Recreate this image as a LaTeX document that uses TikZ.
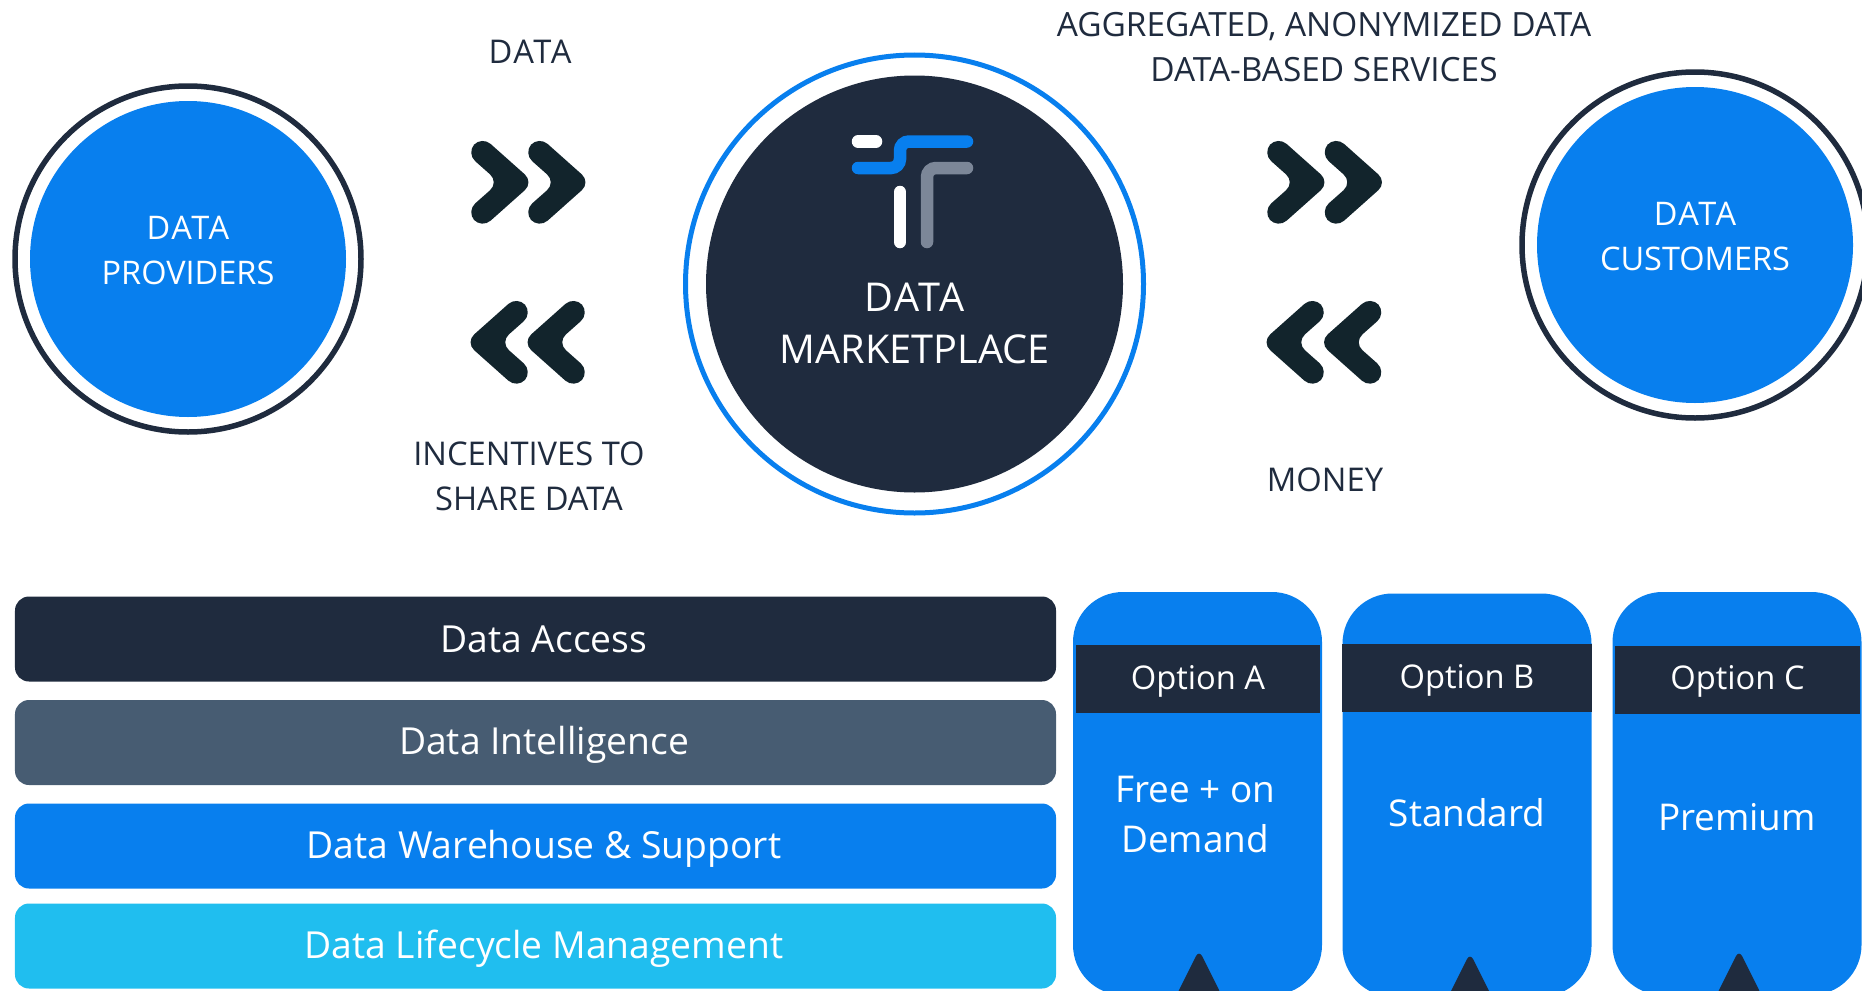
\documentclass[tikz,border=0pt]{standalone}
\usepackage{fontspec}
\setmainfont[Kerning=Off]{Open Sans}
\definecolor{navy}{HTML}{1F2B3E}
\definecolor{slate}{HTML}{475C72}
\definecolor{azure}{HTML}{087FEE}
\definecolor{sky}{HTML}{20BEEF}
\definecolor{ink}{HTML}{12242C}
\definecolor{logogray}{HTML}{7C8798}
\newcommand{\wideword}[1]{{\addfontfeature{LetterSpace=5}#1}}
\tikzset{
    disc/.style={circle, fill=azure, inner sep=0, minimum size=3.16cm},
    ring/.style={circle, draw=navy, line width=0.055cm, inner sep=0, minimum size=3.46cm},
    caption/.style={align=center, text=navy, font=\fontsize{9.3}{12.8}\selectfont},
    disctext/.style={align=center, text=white, font=\fontsize{9.25}{12.8}\selectfont},
    bar/.style={rounded corners=0.14cm, inner sep=0, minimum width=10.41cm, minimum height=0.85cm},
    bartext/.style={text=white, font=\fontsize{10.6}{12}\selectfont},
    card/.style={fill=azure, rounded corners=0.5cm, inner sep=0, minimum width=2.49cm, minimum height=4.03cm},
    band/.style={fill=navy, text=white, inner sep=0, minimum height=0.68cm},
    bandtext/.style={text=white, font=\fontsize{9.3}{12}\selectfont},
    cardtext/.style={align=center, text=white, font=\fontsize{10.5}{14}\selectfont},
    chevron/.style={fill=ink, rounded corners=0.12cm},
    tick/.style={fill=navy, rounded corners=0.07cm}
}
\begin{document}
\begin{tikzpicture}[y=-1cm]
    \clip [use as bounding box] (0,0) rectangle (18.62,9.9);
    \node [ring] (provring) at (1.88,2.59) {};
    \node [disc] (prov) at (1.88,2.59) {};
    \node [disctext] (provtext) at (1.88,2.505) {\wideword{DATA}\\PROVIDERS};
    \node [ring] (custring) at (16.95,2.45) {};
    \node [disc] (cust) at (16.95,2.45) {};
    \node [disctext] (custtext) at (16.95,2.365) {\wideword{DATA}\\CUSTOMERS};
    \node [circle, draw=azure, line width=0.05cm, inner sep=0, minimum size=4.58cm] (marketring) at (9.145,2.84) {};
    \node [circle, fill=navy, inner sep=0, minimum size=4.17cm] (market) at (9.145,2.84) {};
    \node [align=center, text=white, font=\fontsize{11.3}{15}\selectfont] (markettext) at (9.145,3.235) {\wideword{DATA}\\MARKETPLACE};
    \draw [white, line width=0.125cm, line cap=round] (8.58,1.415) -- (8.76,1.415);
    \draw [azure, line width=0.125cm, line cap=round, rounded corners=0.09cm] (8.58,1.68) -- (9,1.68) -- (9,1.415) -- (9.67,1.415);
    \draw [logogray, line width=0.125cm, line cap=round, rounded corners=0.09cm] (9.27,2.42) -- (9.27,1.68) -- (9.67,1.68);
    \draw [white, line width=0.125cm, line cap=round] (9,1.92) -- (9,2.42);
    \foreach \cx/\cy/\dir in {4.995/1.823/1, 5.565/1.823/1, 4.995/3.423/-1, 5.565/3.423/-1, 12.955/1.823/1, 13.53/1.823/1, 12.955/3.423/-1, 13.53/3.423/-1}
        \fill [chevron, shift={(\cx,\cy)}, xscale=\dir] (-0.178,-0.463) -- (0.342,0) -- (-0.178,0.463) -- (-0.332,0.29) -- (-0.005,0) -- (-0.332,-0.29) -- cycle;
    \node [caption] (sendlabel) at (5.3,0.52) {\wideword{DATA}};
    \node [caption] (sharelabel) at (5.29,4.76) {INCENTIVES TO\\SHARE DATA};
    \node [caption, font=\fontsize{9.5}{13}\selectfont] (soldlabel) at (13.24,0.47) {AGGREGATED, ANONYMIZED DATA\\DATA-BASED SERVICES};
    \node [caption] (moneylabel) at (13.25,4.8) {MONEY};
    \node [bar, fill=navy] (access) at (5.355,6.39) {};
    \node [bar, fill=slate] (intel) at (5.355,7.425) {};
    \node [bar, fill=azure] (store) at (5.355,8.46) {};
    \node [bar, fill=sky] (life) at (5.355,9.46) {};
    \node [bartext] (accesstext) at (5.44,6.39) {Data Access};
    \node [bartext] (inteltext) at (5.44,7.45) {Data Intelligence};
    \node [bartext] (storetext) at (5.44,8.49) {Data Warehouse \& Support};
    \node [bartext] (lifetext) at (5.44,9.49) {Data Lifecycle Management};
    \node [card] (carda) at (11.975,7.935) {};
    \node [card] (cardb) at (14.67,7.95) {};
    \node [card] (cardc) at (17.37,7.935) {};
    \node [band, minimum width=2.44cm] (banda) at (11.98,6.79) {};
    \node [band, minimum width=2.5cm] (bandb) at (14.67,6.78) {};
    \node [band, minimum width=2.455cm] (bandc) at (17.375,6.8) {};
    \node [bandtext] (optiona) at (11.98,6.81) {Option A};
    \node [bandtext] (optionb) at (14.67,6.8) {Option B};
    \node [bandtext] (optionc) at (17.375,6.815) {Option C};
    \node [cardtext] (texta) at (11.95,8.145) {Free + on\\Demand};
    \node [cardtext] (textb) at (14.67,8.13) {Standard};
    \node [cardtext] (textc) at (17.37,8.17) {Premium};
    \foreach \tx/\ty in {11.99/9.5, 14.7/9.53, 17.39/9.5}
        \fill [tick, shift={(\tx,\ty)}] (0,0) -- (0.23,0.46) -- (0.23,0.7) -- (-0.23,0.7) -- (-0.23,0.46) -- cycle;
\end{tikzpicture}
\end{document}
